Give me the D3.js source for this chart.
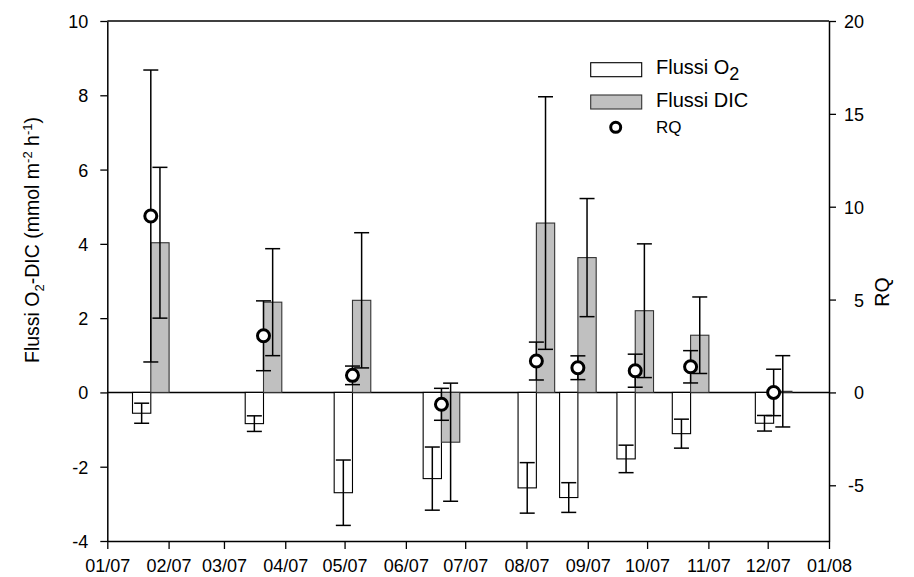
<!DOCTYPE html>
<html>
<head>
<meta charset="utf-8">
<script src="https://cdn.jsdelivr.net/npm/d3@7"></script>
<style>
  html, body { margin: 0; padding: 0; background: #fff; }
  svg { display: block; font-family: "Liberation Sans", Arial, sans-serif; }
</style>
</head>
<body>
<svg id="chart" width="914" height="577"></svg>
<script>
// Sampling dates (2007) and measured fluxes
const dates  = ["2007-01-23", "2007-03-21", "2007-05-05", "2007-06-19", "2007-08-06",
                "2007-08-27", "2007-09-25", "2007-10-23", "2007-12-04"];
const o2     = [-0.56, -0.84, -2.70, -2.32, -2.57, -2.83, -1.79, -1.11, -0.83];
const o2Err  = [0.27, 0.21, 0.88, 0.85, 0.68, 0.40, 0.37, 0.39, 0.21];
const dic    = [4.03, 2.43, 2.48, -1.34, 4.56, 3.63, 2.20, 1.54, 0.03];
const dicErr = [2.03, 1.44, 1.82, 1.59, 3.40, 1.59, 1.80, 1.03, 0.96];
const rq     = [9.50, 3.05, 0.92, -0.64, 1.69, 1.33, 1.17, 1.38, 0.00];
const rqErr  = [7.86, 1.88, 0.50, 0.86, 1.02, 0.64, 0.89, 0.87, 1.25];

const leftTicks  = [-4, -2, 0, 2, 4, 6, 8, 10];
const rightTicks = [-5, 0, 5, 10, 15, 20];

const parse = d3.timeParse("%Y-%m-%d");
const rows = dates.map((d, i) => ({
  date: parse(d), o2: o2[i], o2Err: o2Err[i], dic: dic[i], dicErr: dicErr[i],
  rq: rq[i], rqErr: rqErr[i]
}));

const svg = d3.select("#chart");
const L = 107.3, R = 829, T = 21, B = 541;
const barW = 18.3, cap = 7.5;

const x = d3.scaleTime().domain([new Date(2007, 0, 1), new Date(2008, 0, 1)]).range([L, R]);
const y = d3.scaleLinear().domain([-4, 10]).range([B, T]);
const y2 = d3.scaleLinear().domain([-8, 20]).range([B, T]);

const g = svg.append("g");

// zero line
g.append("line").attr("x1", L).attr("x2", R).attr("y1", y(0)).attr("y2", y(0))
  .attr("stroke", "#000").attr("stroke-width", 1.5);

// O2 bars (white, left of the date)
g.selectAll("rect.o2").data(rows).enter().append("rect")
  .attr("x", d => x(d.date) - barW)
  .attr("y", d => Math.min(y(d.o2), y(0)))
  .attr("width", barW)
  .attr("height", d => Math.abs(y(d.o2) - y(0)))
  .attr("fill", "#fff").attr("stroke", "#000").attr("stroke-width", 1.1);

// DIC bars (grey, right of the date)
g.selectAll("rect.dic").data(rows).enter().append("rect")
  .attr("x", d => x(d.date))
  .attr("y", d => Math.min(y(d.dic), y(0)))
  .attr("width", barW)
  .attr("height", d => Math.max(Math.abs(y(d.dic) - y(0)), 0.5))
  .attr("fill", "#c0c0c0").attr("stroke", "#333").attr("stroke-width", 1.1);

function errorBar(cx, yLo, yHi) {
  const e = g.append("g").attr("stroke", "#000").attr("stroke-width", 1.5);
  e.append("line").attr("x1", cx).attr("x2", cx).attr("y1", yLo).attr("y2", yHi);
  e.append("line").attr("x1", cx - cap).attr("x2", cx + cap).attr("y1", yLo).attr("y2", yLo);
  e.append("line").attr("x1", cx - cap).attr("x2", cx + cap).attr("y1", yHi).attr("y2", yHi);
}

rows.forEach(d => {
  errorBar(x(d.date) - barW / 2, y(d.o2 - d.o2Err), y(d.o2 + d.o2Err));
  errorBar(x(d.date) + barW / 2, y(d.dic - d.dicErr), y(d.dic + d.dicErr));
  errorBar(x(d.date), y2(d.rq - d.rqErr), y2(d.rq + d.rqErr));
});

// RQ points
g.selectAll("circle.rq").data(rows).enter().append("circle")
  .attr("cx", d => x(d.date)).attr("cy", d => y2(d.rq)).attr("r", 6)
  .attr("fill", "#fff").attr("stroke", "#000").attr("stroke-width", 3);

// frame top
g.append("line").attr("x1", L).attr("x2", R).attr("y1", T).attr("y2", T)
  .attr("stroke", "#000").attr("stroke-width", 1.5);

// axes
const fs = 18;
const plain = d => String(d);
const xAxis = svg.append("g").attr("transform", `translate(0,${B})`)
  .call(d3.axisBottom(x).ticks(d3.timeMonth.every(1)).tickFormat(d3.timeFormat("%m/%y")).tickSize(8).tickSizeOuter(0));
xAxis.selectAll("text").attr("y", 31).attr("dy", 0).attr("font-size", fs);

const yAxis = svg.append("g").attr("transform", `translate(${L},0)`)
  .call(d3.axisLeft(y).tickValues(leftTicks).tickFormat(plain).tickSize(7).tickSizeOuter(0));
yAxis.selectAll("text").attr("x", -19).attr("dy", "0.36em").attr("font-size", fs);

const y2Axis = svg.append("g").attr("transform", `translate(${R},0)`)
  .call(d3.axisRight(y2).tickValues(rightTicks).tickFormat(plain).tickSize(7).tickSizeOuter(0));
y2Axis.selectAll("text").attr("x", 35).attr("text-anchor", "end").attr("dy", "0.36em").attr("font-size", fs);

[xAxis, yAxis, y2Axis].forEach(a => {
  a.attr("font-family", null);
  a.selectAll("line").attr("stroke", "#000").attr("stroke-width", 1.3);
  a.select("path.domain").attr("stroke", "#000").attr("stroke-width", 1.5);
  a.selectAll("text").attr("fill", "#000");
});

// axis titles
const lt = svg.append("text").attr("transform", "translate(39,240) rotate(-90)")
  .attr("text-anchor", "middle").attr("font-size", 19.5).attr("fill", "#000");
lt.append("tspan").text("Flussi O");
lt.append("tspan").attr("dy", 5).attr("font-size", 13).text("2");
lt.append("tspan").attr("dy", -5).text("-DIC (mmol m");
lt.append("tspan").attr("dy", -7).attr("font-size", 13).text("-2");
lt.append("tspan").attr("dy", 7).text(" h");
lt.append("tspan").attr("dy", -7).attr("font-size", 13).text("-1");
lt.append("tspan").attr("dy", 7).text(")");

svg.append("text").attr("transform", "translate(889,292) rotate(-90)")
  .attr("text-anchor", "middle").attr("font-size", 19.5).attr("fill", "#000").text("RQ");

// legend
const lg = svg.append("g");
lg.append("rect").attr("x", 590.7).attr("y", 62.7).attr("width", 51).attr("height", 14)
  .attr("fill", "#fff").attr("stroke", "#000").attr("stroke-width", 1.1);
lg.append("rect").attr("x", 590.7).attr("y", 95).attr("width", 51).attr("height", 14)
  .attr("fill", "#c0c0c0").attr("stroke", "#333").attr("stroke-width", 1.1);
lg.append("circle").attr("cx", 615.7).attr("cy", 127.3).attr("r", 5)
  .attr("fill", "#fff").attr("stroke", "#000").attr("stroke-width", 3);
const t1 = lg.append("text").attr("x", 656).attr("y", 73.5).attr("font-size", 20).attr("fill", "#000");
t1.append("tspan").text("Flussi O");
t1.append("tspan").attr("dy", 6).attr("font-size", 18).text("2");
lg.append("text").attr("x", 656).attr("y", 106.7).attr("font-size", 20).attr("fill", "#000").text("Flussi DIC");
lg.append("text").attr("x", 656).attr("y", 132.5).attr("font-size", 17).attr("fill", "#000").text("RQ");
</script>
</body>
</html>
